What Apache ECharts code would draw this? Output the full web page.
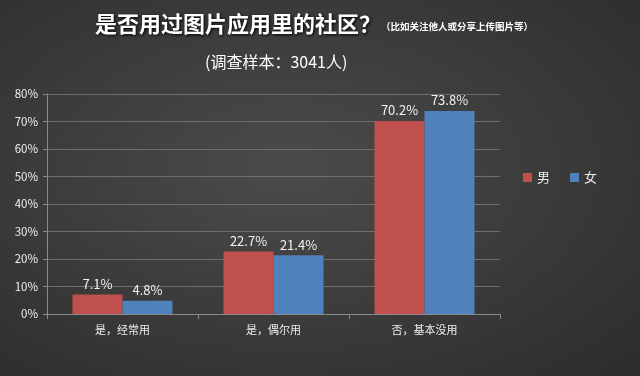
<html>
<head>
  <meta charset="utf-8">
  <title>社区使用</title>
  <script type="text/javascript" src="https://cdn.jsdelivr.net/npm/echarts@6/dist/echarts.min.js"></script>
  <style>
    body { margin: 0; }
    #chartmain { width: 640px; height: 376px; background: radial-gradient(ellipse at 45% 45%, #4b4b4b 0%, #3a3a3a 55%, #2c2c2c 100%); }
  </style>
</head>
<body>
<div id="chartmain"></div>
<script type="text/javascript">
  var categories = ['是，经常用', '是，偶尔用', '否，基本没用'];
  var male = [7.1, 22.7, 70.2];    // 男
  var female = [4.8, 21.4, 73.8];  // 女
  var yTicks = [0, 10, 20, 30, 40, 50, 60, 70, 80];

  var labelStyle = {
    show: true,
    position: 'top',
    distance: 4,
    color: '#f2f2f2',
    fontSize: 13,
    fontFamily: 'Noto Sans CJK SC',
    formatter: function (p) { return p.value.toFixed(1) + '%'; }
  };

  var option = {
    textStyle: { fontFamily: 'Noto Sans CJK SC' },
    title: [{
      left: 90,
      top: 8,
      text: '{a|是否用过图片应用里的社区？}{b|（比如关注他人或分享上传图片等）}',
      textStyle: {
        rich: {
          a: { fontSize: 22, fontWeight: 'bold', color: '#ffffff', textShadowColor: '#000', textShadowBlur: 3, textShadowOffsetX: 1, textShadowOffsetY: 1 },
          b: { fontSize: 9.5, fontWeight: 'bold', color: '#ffffff', padding: [4, 0, 0, 0] }
        }
      }
    }, {
      top: 49,
      left: 200,
      text: '(调查样本：3041人)',
      textStyle: { fontSize: 16, fontWeight: 'normal', color: '#ffffff' }
    }],
    legend: {
      right: 38,
      top: 166,
      itemWidth: 9,
      itemHeight: 9,
      itemGap: 20,
      icon: 'rect',
      textStyle: { color: '#eeeeee', fontSize: 13 },
      data: ['男', '女']
    },
    grid: { left: 47, right: 140, top: 94, bottom: 62 },
    xAxis: {
      type: 'category',
      data: categories,
      axisLine: { lineStyle: { color: '#8a8a8a' } },
      axisTick: { show: true, alignWithLabel: false, length: 5, lineStyle: { color: '#8a8a8a' } },
      axisLabel: { color: '#eeeeee', fontSize: 11, margin: 10 }
    },
    yAxis: {
      type: 'value',
      min: yTicks[0],
      max: yTicks[yTicks.length - 1],
      interval: 10,
      axisLine: { show: true, lineStyle: { color: '#8a8a8a' } },
      axisTick: { show: true, length: 4, lineStyle: { color: '#8a8a8a' } },
      axisLabel: { color: '#eeeeee', fontSize: 11.5, margin: 9, formatter: '{value}%' },
      splitLine: { lineStyle: { color: '#6e6e6e' } }
    },
    series: [{
      name: '男',
      type: 'bar',
      data: male,
      barWidth: 50,
      barGap: '0%',
      itemStyle: { color: '#c0504d' },
      label: labelStyle
    }, {
      name: '女',
      type: 'bar',
      data: female,
      barWidth: 50,
      itemStyle: { color: '#4f81bd' },
      label: labelStyle
    }]
  };

  var myChart = echarts.init(document.getElementById('chartmain'));
  myChart.setOption(option);
</script>
</body>
</html>
